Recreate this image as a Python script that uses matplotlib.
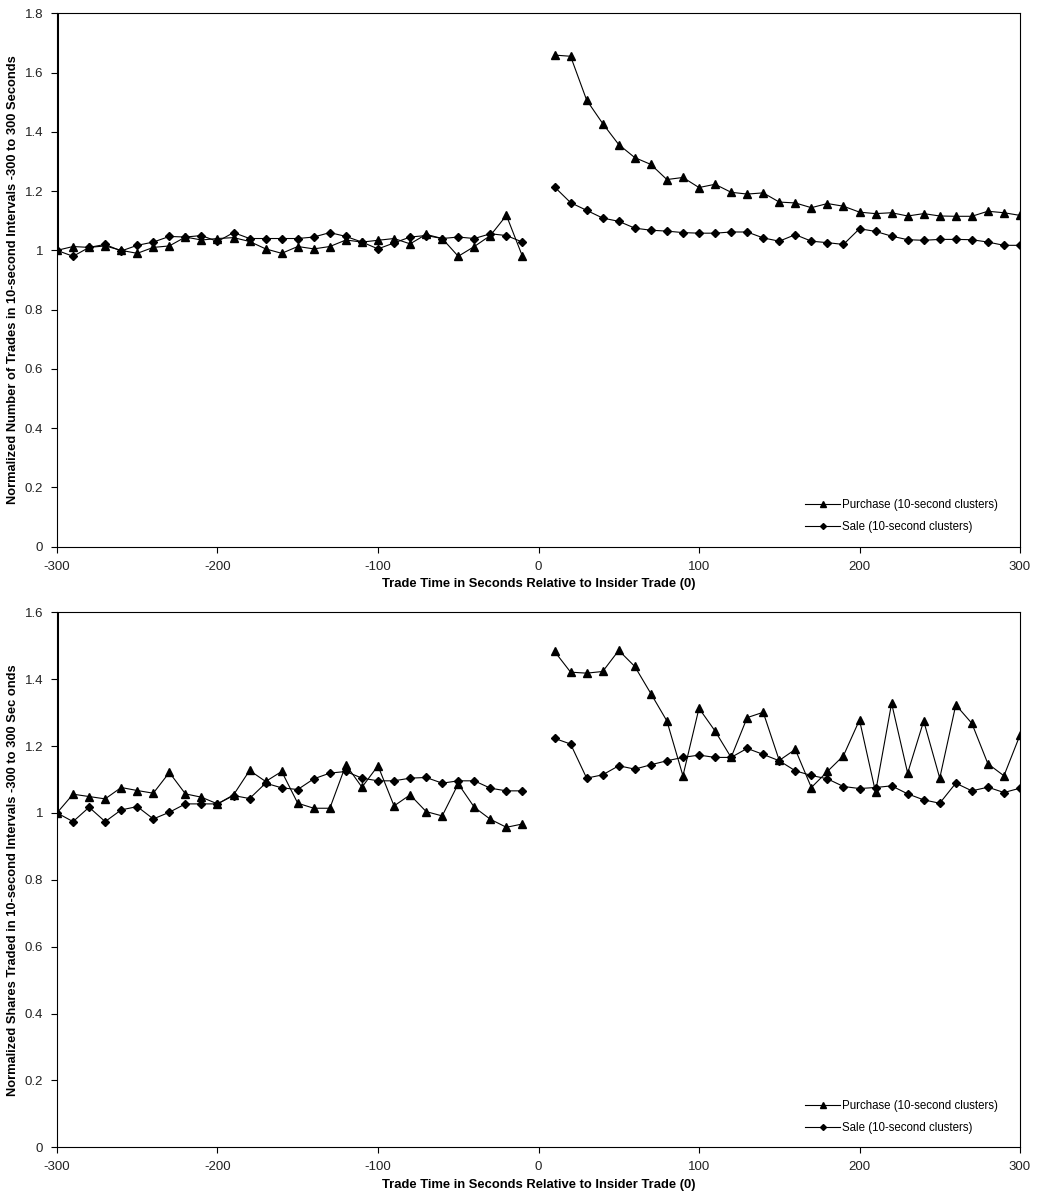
import matplotlib
matplotlib.use("Agg")
import matplotlib.pyplot as plt
from matplotlib.ticker import FuncFormatter

plt.rcParams['font.family'] = ['Liberation Sans', 'DejaVu Sans']

# ---- data ----
time_pre = list(range(-300, 0, 10))          # -300 .. -10
time_post = list(range(10, 310, 10))         # 10 .. 300

trades_purchase_pre = [1.000, 1.013, 1.010, 1.015, 1.000, 0.990, 1.010, 1.015, 1.045, 1.035,
                       1.040, 1.043, 1.030, 1.005, 0.990, 1.013, 1.005, 1.013, 1.035, 1.028,
                       1.034, 1.040, 1.022, 1.054, 1.040, 0.980, 1.013, 1.050, 1.118, 0.980]
trades_sale_pre = [1.000, 0.980, 1.010, 1.020, 0.998, 1.017, 1.028, 1.047, 1.045, 1.050,
                   1.030, 1.060, 1.040, 1.040, 1.040, 1.040, 1.045, 1.060, 1.047, 1.028,
                   1.005, 1.025, 1.045, 1.050, 1.040, 1.045, 1.040, 1.056, 1.050, 1.028]
trades_purchase_post = [1.659, 1.655, 1.507, 1.428, 1.357, 1.313, 1.290, 1.239, 1.246, 1.212,
                        1.223, 1.196, 1.190, 1.194, 1.163, 1.160, 1.144, 1.158, 1.149, 1.129,
                        1.124, 1.127, 1.116, 1.124, 1.116, 1.115, 1.115, 1.132, 1.127, 1.118]
trades_sale_post = [1.214, 1.161, 1.135, 1.109, 1.098, 1.075, 1.068, 1.065, 1.060, 1.058,
                    1.058, 1.062, 1.062, 1.042, 1.031, 1.053, 1.031, 1.026, 1.020, 1.073,
                    1.064, 1.048, 1.036, 1.034, 1.037, 1.037, 1.036, 1.028, 1.017, 1.017]

shares_purchase_pre = [1.000, 1.056, 1.049, 1.042, 1.076, 1.067, 1.059, 1.121, 1.057, 1.047,
                       1.027, 1.054, 1.127, 1.094, 1.124, 1.029, 1.014, 1.014, 1.144, 1.077,
                       1.141, 1.021, 1.054, 1.004, 0.991, 1.087, 1.017, 0.981, 0.957, 0.967]
shares_sale_pre = [1.000, 0.974, 1.017, 0.974, 1.009, 1.019, 0.982, 1.002, 1.027, 1.027,
                   1.027, 1.052, 1.043, 1.089, 1.075, 1.070, 1.102, 1.119, 1.124, 1.104,
                   1.096, 1.096, 1.104, 1.106, 1.089, 1.096, 1.096, 1.074, 1.066, 1.066]
shares_purchase_post = [1.483, 1.421, 1.418, 1.423, 1.486, 1.438, 1.357, 1.275, 1.111, 1.313,
                        1.245, 1.166, 1.285, 1.301, 1.157, 1.190, 1.076, 1.124, 1.171, 1.278,
                        1.062, 1.328, 1.119, 1.275, 1.104, 1.323, 1.268, 1.147, 1.111, 1.233]
shares_sale_post = [1.223, 1.206, 1.104, 1.114, 1.141, 1.131, 1.144, 1.156, 1.166, 1.173,
                    1.166, 1.166, 1.193, 1.175, 1.156, 1.126, 1.112, 1.102, 1.079, 1.073,
                    1.076, 1.081, 1.057, 1.039, 1.029, 1.089, 1.066, 1.077, 1.061, 1.074]

x_ticks = [-300, -200, -100, 0, 100, 200, 300]
purchase_label = "Purchase (10-second clusters)"
sale_label = "Sale (10-second clusters)"
xlabel = "Trade Time in Seconds Relative to Insider Trade (0)"
ylabel_top = "Normalized Number of Trades in 10-second Intervals -300 to 300 Seconds"
ylabel_bottom = "Normalized Shares Traded in 10-second Intervals -300 to 300 Sec onds"

fig = plt.figure(figsize=(10.38, 11.98), dpi=100)
W, H = 1038.0, 1198.0
ax1 = fig.add_axes([57 / W, 1 - 546.7 / H, 963 / W, 533.4 / H])
ax2 = fig.add_axes([57 / W, 1 - 1147.3 / H, 963 / W, 535.0 / H])

fmt = FuncFormatter(lambda v, p: f"{v:g}")


def draw(ax, p_pre, s_pre, p_post, s_post, ymax, ystep, ylabel):
    lw = 0.8
    ms_t = 5.5
    ms_d = 4.3
    ax.plot(time_pre, p_pre, color='black', lw=lw, marker='^', ms=ms_t, zorder=3,
            label=purchase_label)
    ax.plot(time_pre, s_pre, color='black', lw=lw, marker='D', ms=ms_d, zorder=3,
            label=sale_label)
    ax.plot(time_post, p_post, color='black', lw=lw, marker='^', ms=ms_t, zorder=3)
    ax.plot(time_post, s_post, color='black', lw=lw, marker='D', ms=ms_d, zorder=3)
    # heavy segment rising off-chart from the first observation
    ax.vlines(time_pre[0], p_pre[0], ymax, color='black', lw=2.2, zorder=4)
    ax.set_xlim(-300, 300)
    ax.set_ylim(0, ymax)
    ax.set_xticks(x_ticks)
    ax.set_xticklabels([str(t) for t in x_ticks])
    n = int(round(ymax / ystep))
    ax.set_yticks([round(i * ystep, 2) for i in range(n + 1)])
    ax.yaxis.set_major_formatter(fmt)
    ax.tick_params(direction='out', length=4, width=0.8, labelsize=9.5,
                   labelcolor='#222222', pad=6)
    for s in ax.spines.values():
        s.set_linewidth(0.8)
        s.set_color('black')
    ax.set_xlabel(xlabel, fontsize=9.4, fontweight='bold', labelpad=4)
    ax.set_ylabel(ylabel, fontsize=9.3, fontweight='bold')
    ax.yaxis.set_label_coords(-0.039, 0.5)
    leg = ax.legend(loc='lower right', frameon=False, fontsize=8.3,
                    handlelength=3.0, handletextpad=0.15, labelspacing=0.85,
                    markerscale=0.7,
                    bbox_to_anchor=(0.985, 0.01), borderaxespad=0.3)
    return leg


draw(ax1, trades_purchase_pre, trades_sale_pre, trades_purchase_post, trades_sale_post,
     1.8, 0.2, ylabel_top)
draw(ax2, shares_purchase_pre, shares_sale_pre, shares_purchase_post, shares_sale_post,
     1.6, 0.2, ylabel_bottom)

fig.savefig("out.png", dpi=100)
